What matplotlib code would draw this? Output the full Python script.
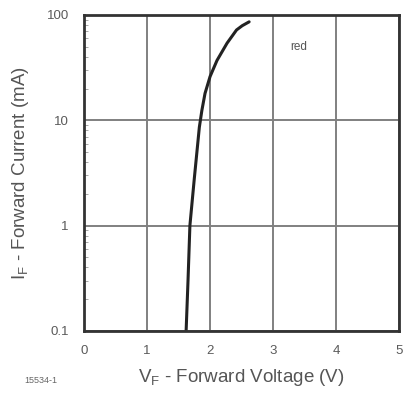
import matplotlib
matplotlib.use("Agg")
import matplotlib.pyplot as plt
from matplotlib.ticker import LogLocator, NullFormatter

plt.rcParams['font.family'] = ['Liberation Sans', 'DejaVu Sans']

# curva (V, mA)
tensao = [1.62, 1.65, 1.68, 1.75, 1.83, 1.87, 1.92, 2.00, 2.11, 2.27, 2.42, 2.51, 2.62]
corrente = [0.1, 0.3, 1, 2.8, 8.6, 12.4, 18, 26, 37, 54, 72, 79, 86]

ticks_x = [0, 1, 2, 3, 4, 5]
ticks_y = [0.1, 1, 10, 100]
rotulos_y = ["0.1", "1", "10", "100"]

fig = plt.figure(figsize=(4.06, 3.93), dpi=100)
ax = fig.add_axes([0.207, 0.158, 0.776, 0.804])

ax.set_yscale("log")
ax.set_xlim(0, 5)
ax.set_ylim(0.1, 100)

ax.plot(tensao, corrente, color="#222222", linewidth=2.2,
        solid_capstyle="round", solid_joinstyle="round")

ax.set_xticks(ticks_x)
ax.set_yticks(ticks_y)
ax.set_yticklabels(rotulos_y)
ax.yaxis.set_minor_locator(LogLocator(base=10, subs=range(2, 10)))
ax.yaxis.set_minor_formatter(NullFormatter())
ax.grid(True, which="major", color="#808080", linewidth=1.4)
ax.tick_params(axis="both", which="major", direction="in", length=0, labelsize=9.5,
               labelcolor="#5a5a5a")
ax.tick_params(axis="x", which="major", pad=10)
ax.tick_params(axis="y", which="major", pad=11)
ax.tick_params(axis="y", which="minor", direction="in", length=3, color="#999999")

for lado in ax.spines.values():
    lado.set_color("#333333")
    lado.set_linewidth(2.0)

ax.text(3.41, 50, "red", fontsize=8.5, color="#555555", ha="center", va="center")

ax.set_xlabel(r"$\mathregular{V_F}$ - Forward Voltage (V)", fontsize=13.5,
              color="#555555", labelpad=7)
ax.set_ylabel(r"$\mathregular{I_F}$ - Forward Current (mA)", fontsize=13.5,
              color="#555555", labelpad=11)

fig.text(0.1, 0.025, "15534-1", fontsize=6.5, color="#666666", ha="center")

fig.savefig("out.png", dpi=100)
